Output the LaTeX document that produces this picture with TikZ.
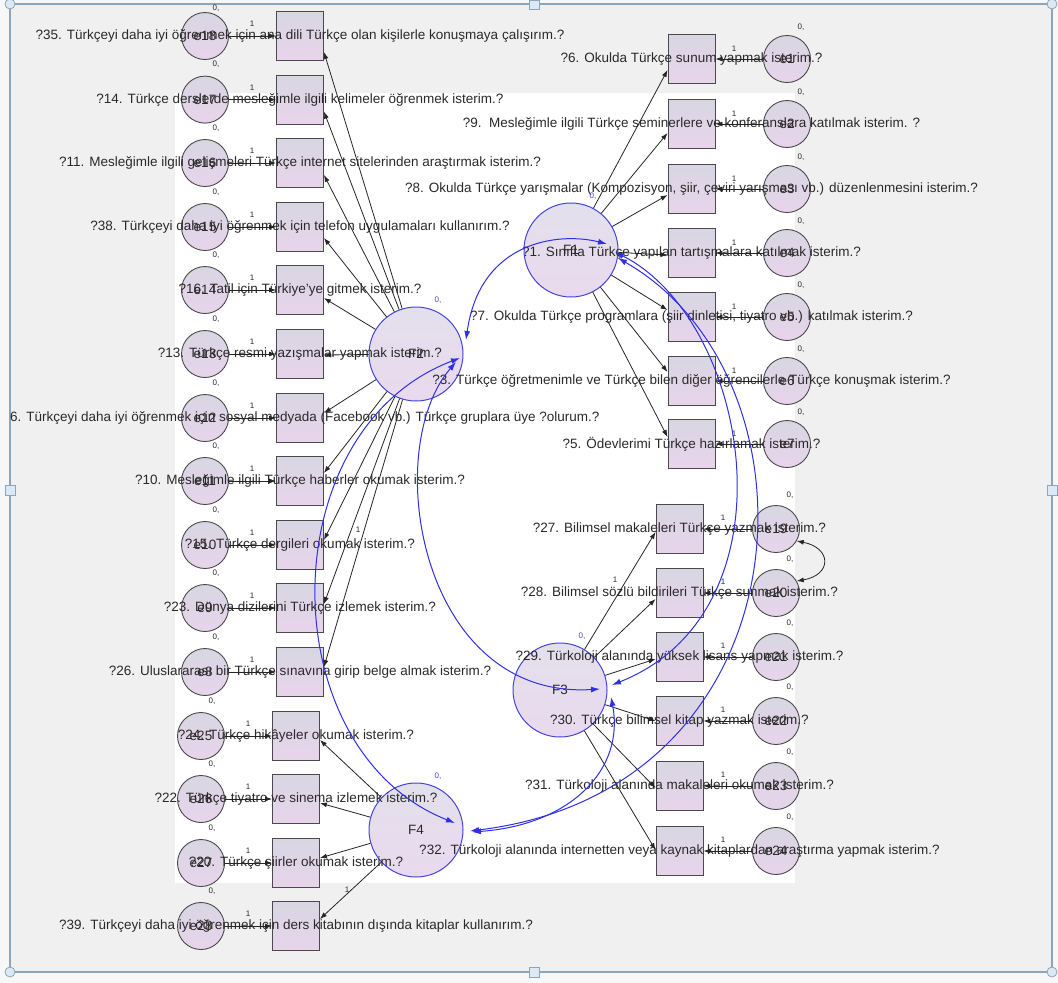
\documentclass[tikz,border=0pt]{standalone}
\usepackage{fontspec}
\setmainfont{Liberation Sans}
\usetikzlibrary{arrows.meta,calc}
\definecolor{bgray}{HTML}{F0F0F0}
\definecolor{framec}{HTML}{8EA4B8}
\definecolor{handlec}{HTML}{DCE9F5}
\definecolor{edgec}{HTML}{4A4A4A}
\definecolor{shtop}{HTML}{D8D6E2}
\definecolor{shbot}{HTML}{E8D4EC}
\definecolor{factop}{HTML}{E2E0EC}
\definecolor{facbot}{HTML}{EAD9EE}
\definecolor{facblue}{HTML}{4444DD}
\definecolor{covblue}{HTML}{2F2FE6}
\definecolor{txtc}{HTML}{2A2A2A}
\newcommand{\QF}{\fontsize{13.5}{15}\selectfont}
\newcommand{\SF}{\fontsize{8}{9}\selectfont}
\tikzset{
  errc/.style={circle, draw=edgec, line width=0.9pt, top color=shtop, bottom color=shbot, minimum size=47pt, inner sep=0pt, font=\QF, text=txtc},
  obs/.style={rectangle, draw=edgec, line width=0.9pt, top color=shtop, bottom color=shbot, minimum width=47pt, minimum height=49pt, inner sep=0pt},
  fac/.style={circle, draw=facblue, line width=1pt, top color=factop, bottom color=facbot, minimum size=94pt, inner sep=0pt, font=\QF, text=txtc},
  qt/.style={font=\QF, text=txtc, inner sep=0pt},
  sm/.style={font=\SF, text=txtc, inner sep=0pt},
  smb/.style={font=\SF, text=facblue, inner sep=0pt},
  ld/.style={-{Latex[length=7pt,width=5pt]}, line width=0.8pt, draw=black!85},
  cov/.style={{Latex[length=9pt,width=6pt]}-{Latex[length=9pt,width=6pt]}, draw=covblue, line width=1pt},
  ecov/.style={{Latex[length=7pt,width=5pt]}-{Latex[length=7pt,width=5pt]}, draw=black!85, line width=0.8pt},
  handle/.style={draw=framec, fill=handlec, line width=0.8pt}
}
\begin{document}
\begin{tikzpicture}[x=1pt,y=-1pt]
\useasboundingbox (0,0) rectangle (1058,983);
% background and frame
\fill[white!97!black] (0,0) rectangle (1058,983);
\fill[bgray] (10,4) rectangle (1052,972);
\fill[white] (175,93) rectangle (795,883);
\draw[framec, line width=1.4pt] (10,4) rectangle (1052,972);
\draw[handle] (529,0) rectangle (539,9);
\draw[handle] (529,967) rectangle (539,977);
\draw[handle] (5,485) rectangle (15,495);
\draw[handle] (1047,485) rectangle (1057,495);
\draw[handle] (10,4) circle (5);
\draw[handle] (1052,4) circle (5);
\draw[handle] (10,972) circle (5);
\draw[handle] (1052,972) circle (5);

% ---------- left group (F2) ----------
\node[obs] (L1) at (300,36) {};    \node[errc] (eL1) at (205,36) {e18};
\node[obs] (L2) at (300,99.6) {};  \node[errc] (eL2) at (205,99.6) {e17};
\node[obs] (L3) at (300,163) {};   \node[errc] (eL3) at (205,163) {e16};
\node[obs] (L4) at (300,227) {};   \node[errc] (eL4) at (205,227) {e15};
\node[obs] (L5) at (300,290) {};   \node[errc] (eL5) at (205,290) {e14};
\node[obs] (L6) at (300,354) {};   \node[errc] (eL6) at (205,354) {e13};
\node[obs] (L7) at (300,418) {};   \node[errc] (eL7) at (205,418) {e12};
\node[obs] (L8) at (300,481) {};   \node[errc] (eL8) at (205,481) {e11};
\node[obs] (L9) at (300,545) {};   \node[errc] (eL9) at (205,545) {e10};
\node[obs] (L10) at (300,608) {};  \node[errc] (eL10) at (205,608) {e9};
\node[obs] (L11) at (300,672) {};  \node[errc] (eL11) at (205,672) {e8};
% ---------- left lower group (F4) ----------
\node[obs] (L12) at (296,736) {};  \node[errc] (eL12) at (201,736) {e25};
\node[obs] (L13) at (296,799) {};  \node[errc] (eL13) at (201,799) {e26};
\node[obs] (L14) at (296,863) {};  \node[errc] (eL14) at (201,863) {e27};
\node[obs] (L15) at (296,926) {};  \node[errc] (eL15) at (201,926) {e28};
% ---------- right top group (F1) ----------
\node[obs] (R1) at (691.5,59) {};  \node[errc] (eR1) at (787,59) {e1};
\node[obs] (R2) at (691.5,124) {}; \node[errc] (eR2) at (787,124) {e2};
\node[obs] (R3) at (691.5,189) {}; \node[errc] (eR3) at (787,189) {e3};
\node[obs] (R4) at (691.5,253) {}; \node[errc] (eR4) at (787,253) {e4};
\node[obs] (R5) at (691.5,317) {}; \node[errc] (eR5) at (787,317) {e5};
\node[obs] (R6) at (691.5,381) {}; \node[errc] (eR6) at (787,381) {e6};
\node[obs] (R7) at (691.5,444) {}; \node[errc] (eR7) at (787,444) {e7};
% ---------- right bottom group (F3) ----------
\node[obs] (B1) at (679.5,529) {}; \node[errc] (eB1) at (776,529) {e19};
\node[obs] (B2) at (679.5,593) {}; \node[errc] (eB2) at (776,593) {e20};
\node[obs] (B3) at (679.5,657) {}; \node[errc] (eB3) at (776,657) {e21};
\node[obs] (B4) at (679.5,721) {}; \node[errc] (eB4) at (776,721) {e22};
\node[obs] (B5) at (679.5,786) {}; \node[errc] (eB5) at (776,786) {e23};
\node[obs] (B6) at (679.5,851) {}; \node[errc] (eB6) at (776,851) {e24};

% ---------- factors ----------
\node[fac] (F1) at (571,250) {F1};
\node[fac] (F2) at (416,354) {F2};
\node[fac] (F3) at (560,690) {F3};
\node[fac] (F4) at (416,830) {F4};

% ---------- item texts ----------
\node[qt] (tL1) at (L1) {?35. Türkçeyi daha iyi öğrenmek için ana dili Türkçe olan kişilerle konuşmaya çalışırım.?};
\node[qt] (tL2) at (L2) {?14. Türkçe derslerde mesleğimle ilgili kelimeler öğrenmek isterim.?};
\node[qt] (tL3) at (L3) {?11. Mesleğimle ilgili gelişmeleri Türkçe internet sitelerinden araştırmak isterim.?};
\node[qt] (tL4) at (L4) {?38. Türkçeyi daha iyi öğrenmek için telefon uygulamaları kullanırım.?};
\node[qt] (tL5) at (L5) {?16. Tatil için Türkiye'ye gitmek isterim.?};
\node[qt] (tL6) at (L6) {?13. Türkçe resmi yazışmalar yapmak isterim.?};
\node[qt, anchor=west] (tL7) at (10,418) {6. Türkçeyi daha iyi öğrenmek için sosyal medyada (Facebook vb.) Türkçe gruplara üye ?olurum.?};
\node[qt] (tL8) at (L8) {?10. Mesleğimle ilgili Türkçe haberler okumak isterim.?};
\node[qt] (tL9) at (L9) {?15. Türkçe dergileri okumak isterim.?};
\node[qt] (tL10) at (L10) {?23. Dünya dizilerini Türkçe izlemek isterim.?};
\node[qt] (tL11) at (L11) {?26. Uluslararası bir Türkçe sınavına girip belge almak isterim.?};
\node[qt] (tL12) at (L12) {?24. Türkçe hikâyeler okumak isterim.?};
\node[qt] (tL13) at (L13) {?22. Türkçe tiyatro ve sinema izlemek isterim.?};
\node[qt] (tL14) at (L14) {?20. Türkçe şiirler okumak isterim.?};
\node[qt] (tL15) at (L15) {?39. Türkçeyi daha iyi öğrenmek için ders kitabının dışında kitaplar kullanırım.?};
\node[qt] (tR1) at (R1) {?6. Okulda Türkçe sunum yapmak isterim.?};
\node[qt] (tR2) at (R2) {?9.\ \ Mesleğimle ilgili Türkçe seminerlere ve konferanslara katılmak isterim. ?};
\node[qt] (tR3) at (R3) {?8. Okulda Türkçe yarışmalar (Kompozisyon, şiir, çeviri yarışması vb.) düzenlenmesini isterim.?};
\node[qt] (tR4) at (R4) {?1. Sınıfta Türkçe yapılan tartışmalara katılmak isterim.?};
\node[qt] (tR5) at (R5) {?7. Okulda Türkçe programlara (şiir dinletisi, tiyatro vb.) katılmak isterim.?};
\node[qt] (tR6) at (R6) {?3. Türkçe öğretmenimle ve Türkçe bilen diğer öğrencilerle Türkçe konuşmak isterim.?};
\node[qt] (tR7) at (R7) {?5. Ödevlerimi Türkçe hazırlamak isterim.?};
\node[qt] (tB1) at (B1) {?27. Bilimsel makaleleri Türkçe yazmak isterim.?};
\node[qt] (tB2) at (B2) {?28. Bilimsel sözlü bildirileri Türkçe sunmak isterim.?};
\node[qt] (tB3) at (B3) {?29. Türkoloji alanında yüksek lisans yapmak isterim.?};
\node[qt] (tB4) at (B4) {?30. Türkçe bilimsel kitap yazmak isterim.?};
\node[qt] (tB5) at (B5) {?31. Türkoloji alanında makaleleri okumak isterim.?};
\node[qt] (tB6) at (B6) {?32. Türkoloji alanında internetten veya kaynak kitaplardan araştırma yapmak isterim.?};

% ---------- variance / weight labels ----------
\node[sm] (zeL1) at (216,8) {0,};
\node[sm] (oeL1) at ($(eL1)+(47,-12)$) {1};
\foreach \n in {eL2,eL3,eL4,eL5,eL6,eL7,eL8,eL9,eL10,eL11,eL12,eL13,eL14,eL15}{
  \node[sm] (z\n) at ($(\n)+(11,-35)$) {0,};
  \node[sm] (o\n) at ($(\n)+(47,-12)$) {1};
}
\foreach \n in {eR1,eR2,eR3,eR4,eR5,eR6,eR7}{
  \node[sm] (z\n) at ($(\n)+(14,-32)$) {0,};
  \node[sm] (o\n) at ($(\n)+(-53,-10)$) {1};
}
\foreach \n in {eB1,eB2,eB3,eB4,eB5,eB6}{
  \node[sm] (z\n) at ($(\n)+(14,-34)$) {0,};
  \node[sm] (o\n) at ($(\n)+(-53,-11)$) {1};
}
\foreach \n in {F1,F2,F3,F4}{
  \node[smb] (z\n) at ($(\n)+(22,-54)$) {0,};
}
\node[sm] (wF2) at (358,530) {1};
\node[sm] (wF4) at (347,890) {1};
\node[sm] (wF3) at (615,580) {1};

% ---------- error -> indicator arrows ----------
\foreach \i in {1,...,15}{ \draw[ld] (eL\i) -- (L\i); }
\foreach \i in {1,...,7}{ \draw[ld] (eR\i) -- (R\i); }
\foreach \i in {1,...,6}{ \draw[ld] (eB\i) -- (B\i); }

% ---------- loadings ----------
\draw[ld] (F2) -- ($(L1.east)+(0,16)$);
\draw[ld] (F2) -- ($(L2.east)+(0,12)$);
\draw[ld] (F2) -- ($(L3.east)+(0,12)$);
\draw[ld] (F2) -- ($(L4.east)+(0,11)$);
\draw[ld] (F2) -- ($(L5.east)+(0,8)$);
\draw[ld] (F2) -- ($(L6.east)+(0,1)$);
\draw[ld] (F2) -- ($(L7.east)+(0,-5)$);
\draw[ld] (F2) -- ($(L8.east)+(0,-8)$);
\draw[ld] (F2) -- ($(L9.east)+(0,-5)$);
\draw[ld] (F2) -- ($(L10.east)+(0,-4)$);
\draw[ld] (F2) -- ($(L11.east)+(0,-5)$);
\draw[ld] (F4) -- ($(L12.east)+(0,4)$);
\draw[ld] (F4) -- ($(L13.east)+(0,4)$);
\draw[ld] (F4) -- ($(L14.east)+(0,-5)$);
\draw[ld] (F4) -- ($(L15.east)+(0,-7)$);
\draw[ld] (F1) -- ($(R1.west)+(0,11)$);
\draw[ld] (F1) -- ($(R2.west)+(0,9)$);
\draw[ld] (F1) -- ($(R3.west)+(0,6)$);
\draw[ld] (F1) -- ($(R4.west)+(0,2)$);
\draw[ld] (F1) -- ($(R5.west)+(0,-7)$);
\draw[ld] (F1) -- ($(R6.west)+(0,-9)$);
\draw[ld] (F1) -- ($(R7.west)+(0,-7)$);
\draw[ld] (F3) -- ($(B1.west)+(0,3)$);
\draw[ld] (F3) -- ($(B2.west)+(0,6)$);
\draw[ld] (F3) -- ($(B3.west)+(0,2)$);
\draw[ld] (F3) -- (B4.west);
\draw[ld] (F3) -- ($(B5.west)+(0,2)$);
\draw[ld] (F3) -- ($(B6.west)+(0,-1)$);

% ---------- error covariance ----------
\draw[ecov] (eB1.-30) .. controls (832,548) and (832,575) .. (eB2.30);

% ---------- factor covariances ----------
\draw[cov] ($(F1)+(36,-6)$) .. controls (560,232) and (480,240) .. ($(F2)+(50,-14)$);
\draw[cov] ($(F2)+(44,4)$) .. controls (270,430) and (270,750) .. ($(F4)+(39,-7)$);
\draw[cov] ($(F2)+(40,8)$) .. controls (380,450) and (420,700) .. ($(F3)+(40,-1)$);
\draw[cov] ($(F1)+(44,2)$) .. controls (750,320) and (800,610) .. ($(F3)+(52,-5)$);
\draw[cov] ($(F1)+(47,8)$) .. controls (830,380) and (810,790) .. ($(F4)+(54,1)$);
\draw[cov] ($(F3)+(51,7)$) .. controls (625,770) and (570,825) .. ($(F4)+(56,2)$);
\end{tikzpicture}
\end{document}
